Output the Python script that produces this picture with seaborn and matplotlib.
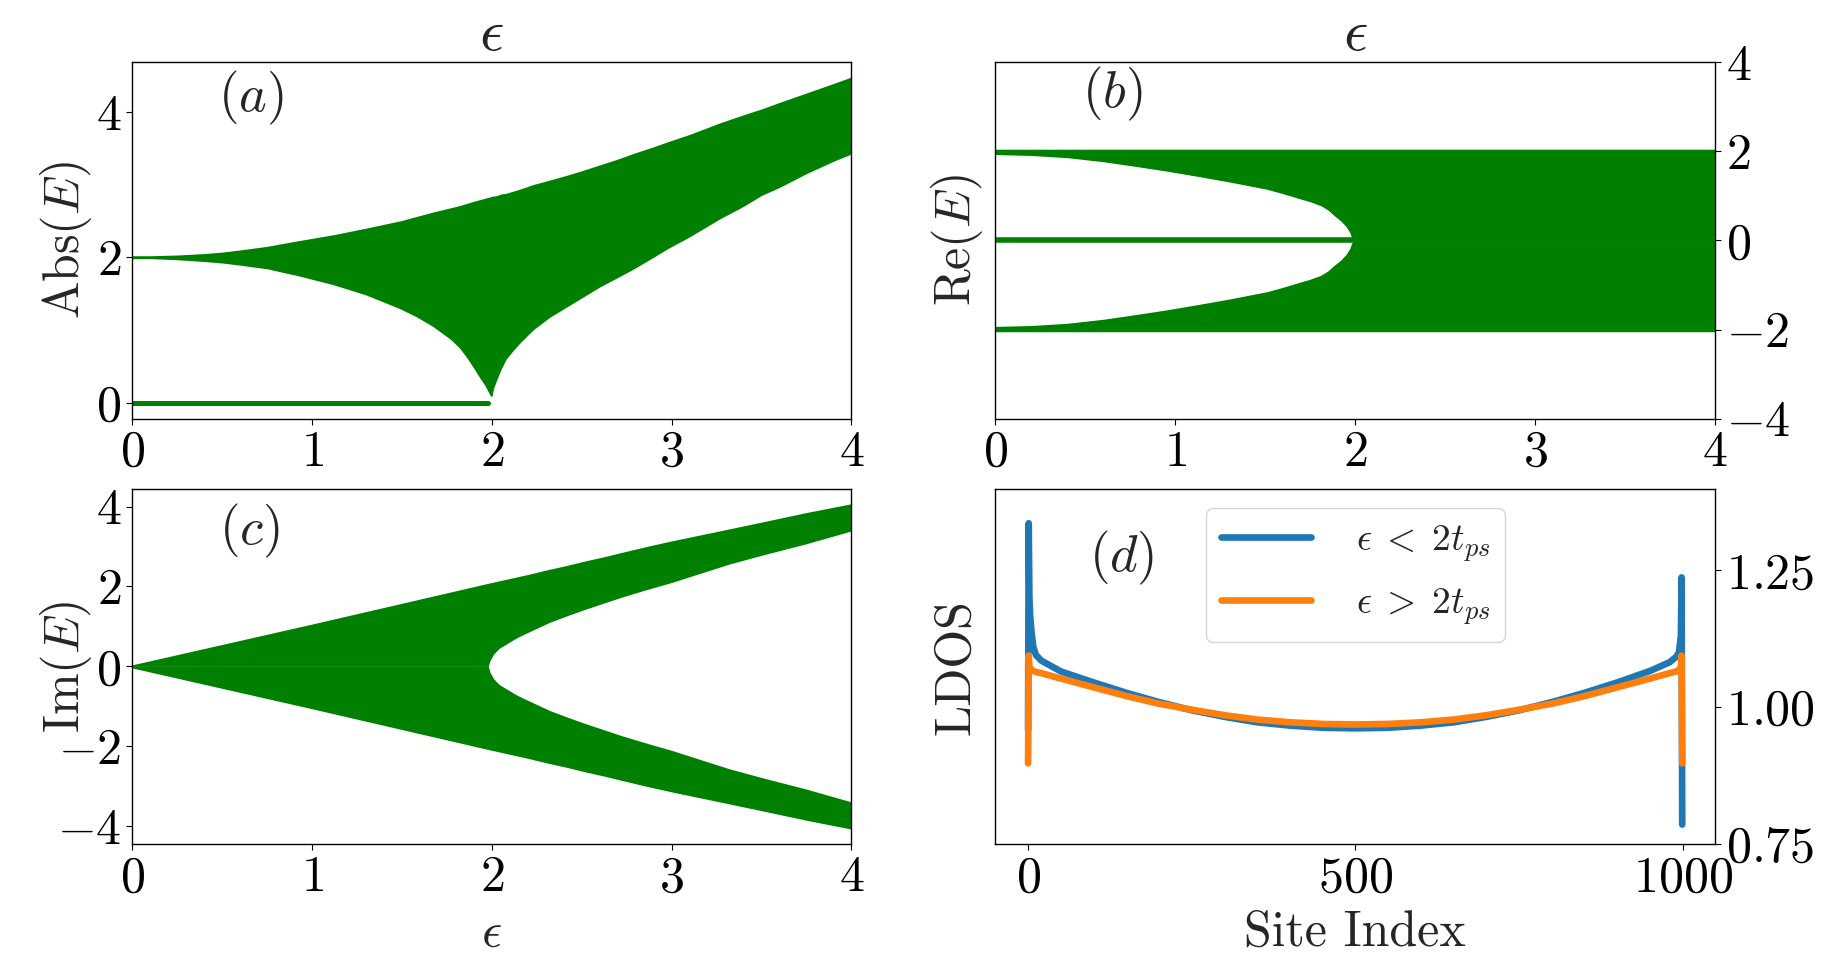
import numpy as np
import matplotlib
matplotlib.use('Agg')
import matplotlib.pyplot as plt
import seaborn as sns

# ---- (a) Abs(E): edges of the eigenvalue band
eps_abs = [0, 0.1, 0.25, 0.4, 0.5, 0.6, 0.75, 0.93, 1.12, 1.30, 1.49, 1.58,
           1.67, 1.77, 1.82, 1.86, 1.90, 1.93, 1.96, 1.99, 2.0, 2.01, 2.03,
           2.05, 2.08, 2.12, 2.16, 2.23, 2.32, 2.42, 2.5, 2.60, 2.7, 2.79,
           2.9, 2.98, 3.1, 3.27, 3.4, 3.5, 3.6, 3.75, 3.9, 4.0]
abs_upper = [2.02, 2.02, 2.03, 2.05, 2.07, 2.10, 2.15, 2.23, 2.31, 2.40, 2.50,
             2.56, 2.62, 2.68, 2.71, 2.74, 2.77, 2.79, 2.81, 2.83, 2.84, 2.84,
             2.85, 2.87, 2.88, 2.91, 2.94, 3.00, 3.06, 3.13, 3.19, 3.27, 3.35,
             3.43, 3.52, 3.59, 3.69, 3.85, 3.96, 4.04, 4.13, 4.26, 4.39, 4.48]
abs_lower = [1.98, 1.98, 1.965, 1.94, 1.92, 1.89, 1.84, 1.74, 1.62, 1.48,
             1.29, 1.18, 1.05, 0.87, 0.75, 0.62, 0.47, 0.35, 0.24, 0.10, 0.08,
             0.20, 0.33, 0.45, 0.60, 0.72, 0.83, 1.00, 1.17, 1.32, 1.44, 1.59,
             1.72, 1.84, 2.00, 2.12, 2.28, 2.53, 2.70, 2.85, 2.96, 3.15, 3.32,
             3.42]

# zero mode present for eps < 2
eps_zero = [0, 1.98]
zero_mode = [0, 0]

# ---- (b) Re(E)
eps_re = [0, 0.2, 0.4, 0.6, 0.77, 0.95, 1.14, 1.32, 1.51, 1.6, 1.69, 1.75,
          1.81, 1.85, 1.88, 1.92, 1.95, 1.97, 1.986, 2.0, 4.0]
re_inner = [1.93, 1.91, 1.86, 1.77, 1.67, 1.56, 1.43, 1.30, 1.15, 1.05, 0.94,
            0.87, 0.78, 0.68, 0.57, 0.44, 0.31, 0.18, 0.0, 0.0, 0.0]
re_edge = 2.05

# ---- (c) Im(E)
eps_im = [0, 1.0, 1.98, 1.99, 2.01, 2.04, 2.08, 2.14, 2.2, 2.32, 2.42, 2.52,
          2.62, 2.72, 2.86, 3.0, 3.16, 3.32, 3.5, 3.75, 4.0]
im_outer = [0.04, 1.06, 2.08, 2.09, 2.11, 2.14, 2.18, 2.24, 2.30, 2.43, 2.53,
            2.64, 2.74, 2.85, 3.0, 3.14, 3.29, 3.44, 3.61, 3.85, 4.07]
im_inner = [0.0, 0.0, 0.0, 0.15, 0.31, 0.45, 0.56, 0.72, 0.85, 1.10, 1.27,
            1.43, 1.58, 1.73, 1.92, 2.10, 2.33, 2.56, 2.78, 3.07, 3.39]

# ---- (d) LDOS along the chain
sites = [0, 1, 2, 3, 5, 8, 12, 20, 50, 100, 150, 200, 250, 300, 350, 400, 450,
         500, 550, 600, 650, 700, 750, 800, 850, 900, 950, 980, 990, 994, 996,
         997, 998, 999]
ldos_below = [0.958, 1.336, 1.20, 1.17, 1.14, 1.11, 1.095, 1.085, 1.065, 1.045,
              1.026, 1.009, 0.994, 0.982, 0.972, 0.966, 0.962, 0.961, 0.962,
              0.966, 0.972, 0.982, 0.994, 1.009, 1.026, 1.045, 1.066, 1.082,
              1.092, 1.10, 1.12, 1.13, 1.237, 0.785]
ldos_above = [0.897, 1.094, 1.075, 1.070, 1.068, 1.066, 1.064, 1.062, 1.052,
              1.036, 1.020, 1.006, 0.995, 0.985, 0.977, 0.972, 0.969, 0.968,
              0.969, 0.972, 0.977, 0.985, 0.995, 1.006, 1.020, 1.036, 1.052,
              1.062, 1.065, 1.068, 1.070, 1.075, 1.094, 0.897]

sns.set_style('ticks')
plt.rcParams.update({
    'font.family': 'serif',
    'font.serif': ['cmr10'],
    'mathtext.fontset': 'cm',
    'axes.formatter.use_mathtext': True,
    'font.size': 36,
    'axes.edgecolor': 'black',
    'axes.linewidth': 1.0,
    'xtick.color': 'black',
    'ytick.color': 'black',
    'xtick.major.size': 4.1,
    'ytick.major.size': 4.1,
    'xtick.major.pad': 4,
    'ytick.major.pad': 4,
    'xtick.direction': 'out',
    'ytick.direction': 'out',
})

fig = plt.figure(figsize=(18.46, 9.74), dpi=100)
ax_a = fig.add_axes([0.0717, 0.5703, 0.3895, 0.3656])
ax_b = fig.add_axes([0.5392, 0.5703, 0.3898, 0.3656])
ax_c = fig.add_axes([0.0717, 0.1332, 0.3895, 0.3644])
ax_d = fig.add_axes([0.5392, 0.1332, 0.3898, 0.3644])

green = 'green'

# (a)
ax_a.fill_between(eps_abs, abs_lower, abs_upper, color=green, lw=0)
sns.lineplot(x=eps_zero, y=zero_mode, ax=ax_a, color=green, lw=3.6)
ax_a.set_xlim(0, 4)
ax_a.set_ylim(-0.22, 4.68)
ax_a.set_yticks([0, 2, 4])
ax_a.set_title(r'$\epsilon$')
ax_a.set_ylabel(r'$\mathrm{Abs}(E)$')
ax_a.yaxis.set_label_coords(-0.053, 0.5)
ax_a.text(0.165, 0.901, r'$(a)$', transform=ax_a.transAxes,
          ha='center', va='center', fontsize=38)

# (b)
ax_b.fill_between(eps_re, re_inner, re_edge, color=green, lw=0)
ax_b.fill_between(eps_re, -re_edge, -np.array(re_inner), color=green, lw=0)
sns.lineplot(x=eps_zero, y=zero_mode, ax=ax_b, color=green, lw=4.0)
ax_b.set_xlim(0, 4)
ax_b.set_ylim(-4, 4)
ax_b.set_yticks([-4, -2, 0, 2, 4])
ax_b.yaxis.tick_right()
ax_b.set_title(r'$\epsilon$')
ax_b.set_ylabel(r'$\mathrm{Re}(E)$')
ax_b.yaxis.set_label_coords(-0.015, 0.5)
ax_b.text(0.162, 0.912, r'$(b)$', transform=ax_b.transAxes,
          ha='center', va='center', fontsize=38)

# (c)
ax_c.fill_between(eps_im, im_inner, im_outer, color=green, lw=0)
ax_c.fill_between(eps_im, -np.array(im_outer), -np.array(im_inner), color=green, lw=0)
ax_c.set_xlim(0, 4)
ax_c.set_ylim(-4.45, 4.43)
ax_c.set_yticks([-4, -2, 0, 2, 4])
ax_c.set_xlabel(r'$\epsilon$', labelpad=7)
ax_c.set_ylabel(r'$\mathrm{Im}(E)$')
ax_c.yaxis.set_label_coords(-0.053, 0.5)
ax_c.text(0.163, 0.882, r'$(c)$', transform=ax_c.transAxes,
          ha='center', va='center', fontsize=38)

# (d)
sns.lineplot(x=sites, y=ldos_below, ax=ax_d, color='#1f77b4', lw=4.8,
             label=r'$\epsilon\;<\;2t_{ps}$')
sns.lineplot(x=sites, y=ldos_above, ax=ax_d, color='#ff7f0e', lw=4.8,
             label=r'$\epsilon\;>\;2t_{ps}$')
ax_d.set_xlim(-49.95, 1048.95)
ax_d.set_ylim(0.749, 1.398)
ax_d.set_xticks([0, 500, 1000])
ax_d.set_yticks([0.75, 1.00, 1.25])
ax_d.yaxis.tick_right()
ax_d.set_xlabel('Site Index', labelpad=6)
ax_d.set_ylabel('LDOS')
ax_d.yaxis.set_label_coords(-0.022, 0.5)
ax_d.legend(loc='upper center', fontsize=27, handlelength=2.4,
            handletextpad=1.2, labelspacing=0.6)
ax_d.text(0.176, 0.808, r'$(d)$', transform=ax_d.transAxes,
          ha='center', va='center', fontsize=38)

for ax in (ax_a, ax_b, ax_c, ax_d):
    for sp in ax.spines.values():
        sp.set_visible(True)
        sp.set_color('black')

fig.savefig('out.png', dpi=100)
